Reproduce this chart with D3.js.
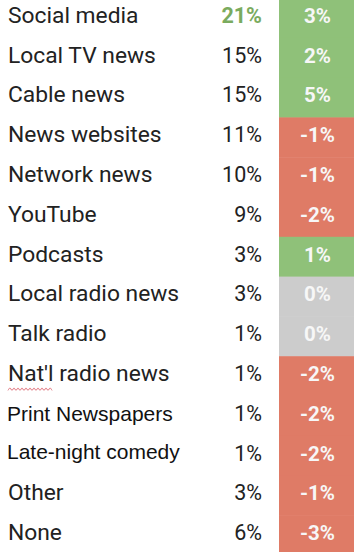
<!DOCTYPE html>
<html>
<head>
<meta charset="utf-8">
<script src="https://cdn.jsdelivr.net/npm/d3@7"></script>
<style>
  html, body { margin: 0; padding: 0; background: #fff; }
  svg { display: block; }
</style>
</head>
<body>
<div id="chart"></div>
<script>
// Source, share of people, change vs. earlier survey.
const sources = ["Social media", "Local TV news", "Cable news", "News websites", "Network news",
  "YouTube", "Podcasts", "Local radio news", "Talk radio", "Nat'l radio news",
  "Print Newspapers", "Late-night comedy", "Other", "None"];
const shares = [21, 15, 15, 11, 10, 9, 3, 3, 1, 1, 1, 1, 3, 6];
const changes = [3, 2, 5, -1, -1, -2, 1, 0, 0, -2, -2, -2, -1, -3];

// The two rows pasted in a different font.
const otherFont = ["Print Newspapers", "Late-night comedy"];

const width = 355;
const height = 552;

const svg = d3.select("#chart").append("svg")
  .attr("width", width)
  .attr("height", height);

const y = d3.scaleBand().domain(sources).range([-2, 555.2]).padding(0);
const mid = y.bandwidth() / 2;

const cellX0 = 279, cellX1 = 354;

const cellColor = (v) => v > 0 ? "#8fc179" : v < 0 ? "#df7b66" : "#cccccc";

const rows = svg.selectAll("g.row")
  .data(sources.map((s, i) => ({ source: s, share: shares[i], change: changes[i] })))
  .join("g")
  .attr("class", "row")
  .attr("transform", (d) => `translate(0,${y(d.source)})`);

// Coloured change cells.
rows.append("rect")
  .attr("x", cellX0)
  .attr("y", 0)
  .attr("width", cellX1 - cellX0)
  .attr("height", y.bandwidth() + 0.5)
  .attr("fill", (d) => cellColor(d.change));

// Source labels.
rows.append("text")
  .attr("x", (d) => otherFont.includes(d.source) ? 7 : 8)
  .attr("y", (d) => d.source === "Late-night comedy" ? mid + 3 : mid + 5)
  .attr("font-family", (d) => otherFont.includes(d.source) ? "'Liberation Sans', Arial, sans-serif" : "Roboto, sans-serif")
  .attr("font-size", (d) => otherFont.includes(d.source) ? "21px" : "22.8px")
  .attr("fill", (d) => otherFont.includes(d.source) ? "#111" : "#222")
  .text((d) => d.source);

// Share column.
rows.append("text")
  .attr("x", 262)
  .attr("y", mid + 5)
  .attr("text-anchor", "end")
  .attr("font-family", "Roboto, sans-serif")
  .attr("font-size", "21.5px")
  .attr("font-weight", (d, i) => i === 0 ? "bold" : "normal")
  .attr("fill", (d, i) => i === 0 ? "#7aab5e" : "#222")
  .text((d) => d.share + "%");

// Change column.
rows.append("text")
  .attr("x", (cellX0 + cellX1) / 2 + 1)
  .attr("y", mid + 5)
  .attr("text-anchor", "middle")
  .attr("font-family", "Roboto, sans-serif")
  .attr("font-size", "20.5px")
  .attr("font-weight", "bold")
  .attr("fill", "#f7f7f7")
  .text((d) => d.change + "%");

// Spell-check squiggle under "Nat'l".
const natl = y("Nat'l radio news");
const squiggle = d3.range(0, 23).map((k) => [8 + k * 2, natl + 33 + (k % 2 ? -1.2 : 1.2)]);
svg.append("path")
  .attr("d", d3.line().curve(d3.curveMonotoneX)(squiggle))
  .attr("fill", "none")
  .attr("stroke", "#e0707a")
  .attr("stroke-width", 1);
</script>
</body>
</html>
